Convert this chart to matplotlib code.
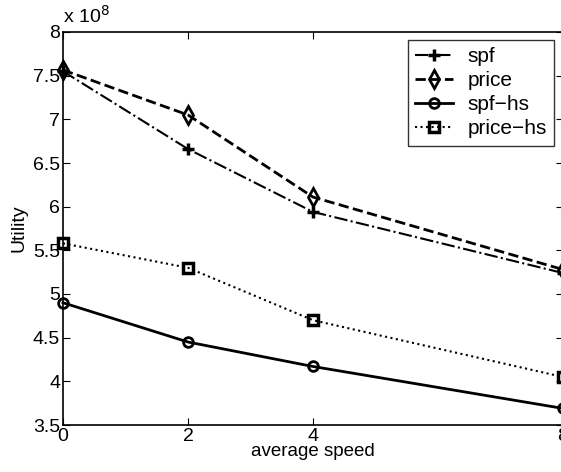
import numpy as np
import matplotlib.pyplot as plt
from matplotlib.ticker import FormatStrFormatter

plt.rcParams['font.family'] = ['Liberation Sans', 'DejaVu Sans']

# average speed values and utility (in units of 1e8)
speed = [0, 2, 4, 8]
spf = [7.55, 6.66, 5.94, 5.24]
price = [7.565, 7.05, 6.11, 5.28]
spf_hs = [4.90, 4.45, 4.17, 3.69]
price_hs = [5.58, 5.30, 4.70, 4.05]

labels = ['spf', 'price', 'spf\u2212hs', 'price\u2212hs']

fig = plt.figure(figsize=(5.61, 4.72), dpi=100)
ax = fig.add_axes([63/561, 47/472, 500/561, 393/472])

lw = 2.0
ax.plot(speed, spf, '-.', marker='+', color='k', lw=1.5, ms=8, mew=2.5,
        label=labels[0], clip_on=False)
ax.plot(speed, price, '--', marker='d', color='k', lw=lw, ms=9, mew=2,
        mfc='none', label=labels[1], clip_on=False)
ax.plot(speed, spf_hs, '-', marker='o', color='k', lw=lw, ms=7, mew=2,
        mfc='none', label=labels[2], clip_on=False)
ax.plot(speed, price_hs, ':', marker='s', color='k', lw=1.5, ms=7, mew=2.5,
        mfc='none', label=labels[3], clip_on=False)

ax.set_xlim(0, 8)
ax.set_ylim(3.5, 8)
ax.set_xticks([0, 2, 4, 8])
ax.set_yticks(np.arange(3.5, 8.01, 0.5))
ax.yaxis.set_major_formatter(FormatStrFormatter('%g'))
ax.tick_params(direction='in', top=True, right=True, labelsize=14, length=5,
               width=0.8, pad=2)
for s in ax.spines.values():
    s.set_linewidth(1.2)

ax.set_xlabel('average speed', fontsize=13.5, labelpad=-1)
ax.set_ylabel('Utility', fontsize=14, labelpad=4)
ax.text(0.0, 1.012, 'x 10$^8$', transform=ax.transAxes, fontsize=14,
        ha='left', va='bottom')

leg = ax.legend(loc='upper right', bbox_to_anchor=(491/500, 1 - 8/393),
                fontsize=15, frameon=True, fancybox=False, handlelength=1.8,
                borderpad=0.35, labelspacing=0.24, handletextpad=0.7,
                borderaxespad=0)
leg.get_frame().set_edgecolor('k')
leg.get_frame().set_linewidth(1.0)

fig.savefig('out.png', dpi=100)
